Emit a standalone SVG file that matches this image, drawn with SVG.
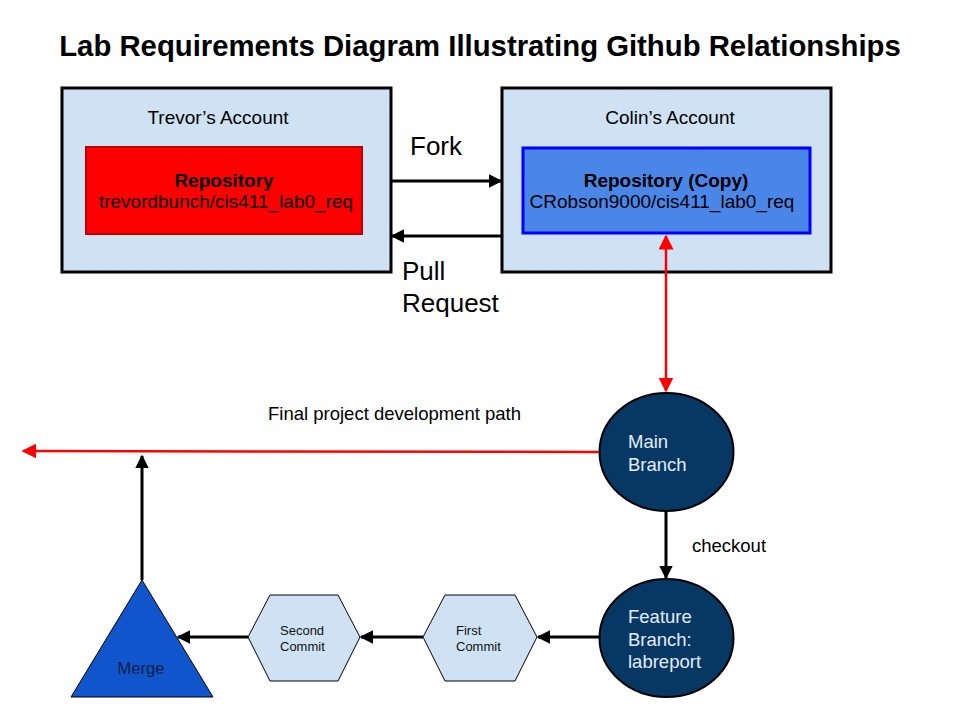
<svg xmlns="http://www.w3.org/2000/svg" width="960" height="720" viewBox="0 0 960 720">
<style>
text{font-family:"Liberation Sans",Arial,sans-serif;}
.acct{fill:#cfe2f3;stroke:#000;stroke-width:3;}
.lbl{font-size:19px;fill:#000;}
.big{font-size:26px;fill:#000;}
.blk{stroke:#000;stroke-width:3;fill:none;}
.red{stroke:#ff0000;stroke-width:2.5;fill:none;}
.ell{fill:#073763;stroke:#000;stroke-width:2;}
.wt{font-size:18.5px;fill:#e3edf8;}
.hex{fill:#cfe2f3;stroke:#000;stroke-width:1;}
.sm{font-size:13px;fill:#111;}
</style>
<defs>
<marker id="ab" viewBox="0 0 10 10" refX="9" refY="5" markerWidth="4.5" markerHeight="4.5" orient="auto-start-reverse" markerUnits="strokeWidth"><path d="M0,0 L10,5 L0,10 z" fill="#000"/></marker>
<marker id="ar" viewBox="0 0 10 10" refX="9" refY="5" markerWidth="6" markerHeight="6" orient="auto-start-reverse" markerUnits="strokeWidth"><path d="M0,0 L10,5 L0,10 z" fill="#ff0000"/></marker>
</defs>
<rect width="960" height="720" fill="#fff"/>
<text x="480" y="56" text-anchor="middle" font-size="29.3" font-weight="bold" fill="#000">Lab Requirements Diagram Illustrating Github Relationships</text>

<g id="trevor">
<rect class="acct" x="62" y="88" width="329" height="184"/>
<text class="lbl" x="218" y="124" text-anchor="middle">Trevor’s Account</text>
</g>
<g id="trevor-repo">
<rect x="86" y="147" width="276" height="87" fill="#ff0000" stroke="#c00000" stroke-width="2"/>
<text class="lbl" x="224" y="187" text-anchor="middle" font-weight="bold">Repository</text>
<text class="lbl" x="226" y="208" text-anchor="middle">trevordbunch/cis411_lab0_req</text>
</g>
<g id="colin">
<rect class="acct" x="502" y="88" width="329" height="184"/>
<text class="lbl" x="670" y="124" text-anchor="middle">Colin’s Account</text>
</g>
<g id="colin-repo">
<rect x="523" y="148" width="287" height="85" fill="#4a86e8" stroke="#0000ff" stroke-width="3"/>
<text class="lbl" x="666" y="187" text-anchor="middle" font-weight="bold">Repository (Copy)</text>
<text class="lbl" x="662" y="208" text-anchor="middle">CRobson9000/cis411_lab0_req</text>
</g>
<g id="main">
<ellipse class="ell" cx="666.5" cy="452" rx="67" ry="59"/>
<text class="wt" x="628" y="448">Main</text>
<text class="wt" x="628" y="471">Branch</text>
</g>
<g id="feature">
<ellipse class="ell" cx="666.5" cy="638" rx="67" ry="59"/>
<text class="wt" x="628" y="623">Feature</text>
<text class="wt" x="628" y="646">Branch:</text>
<text class="wt" x="628" y="668">labreport</text>
</g>
<g id="first">
<polygon class="hex" points="423,637 445,595 515,595 537,637 515,681 445,681"/>
<text class="sm" x="456" y="635">First</text>
<text class="sm" x="456" y="651">Commit</text>
</g>
<g id="second">
<polygon class="hex" points="248,637 270,595 338,595 360,637 338,681 270,681"/>
<text class="sm" x="280" y="635">Second</text>
<text class="sm" x="280" y="651">Commit</text>
</g>
<g id="merge">
<polygon points="142,580 213,697 71,697" fill="#1155cc" stroke="#000" stroke-width="1"/>
<text x="141" y="674" text-anchor="middle" font-size="16.5" fill="#0c2146">Merge</text>
</g>

<g id="connectors">
<line class="blk" x1="391" y1="181" x2="501" y2="181" marker-end="url(#ab)"/>
<line class="blk" x1="503" y1="236" x2="392" y2="236" marker-end="url(#ab)"/>
<line class="red" x1="666" y1="236" x2="666" y2="391" marker-start="url(#ar)" marker-end="url(#ar)"/>
<line class="red" x1="599" y1="452" x2="23" y2="451" marker-end="url(#ar)"/>
<line class="blk" x1="666" y1="511" x2="666" y2="578" marker-end="url(#ab)"/>
<line class="blk" x1="600" y1="637" x2="538" y2="637" marker-end="url(#ab)"/>
<line class="blk" x1="423" y1="637" x2="361" y2="637" marker-end="url(#ab)"/>
<line class="blk" x1="248" y1="637" x2="178" y2="637" marker-end="url(#ab)"/>
<line class="blk" x1="142" y1="580" x2="142" y2="456" marker-end="url(#ab)"/>
</g>
<text class="big" x="410" y="155">Fork</text>
<text class="big" x="402" y="280">Pull</text>
<text class="big" x="402" y="312">Request</text>
<text x="692" y="552" font-size="18.5" fill="#000">checkout</text>
<text x="268" y="420" font-size="18.5" fill="#000">Final project development path</text>
</svg>
